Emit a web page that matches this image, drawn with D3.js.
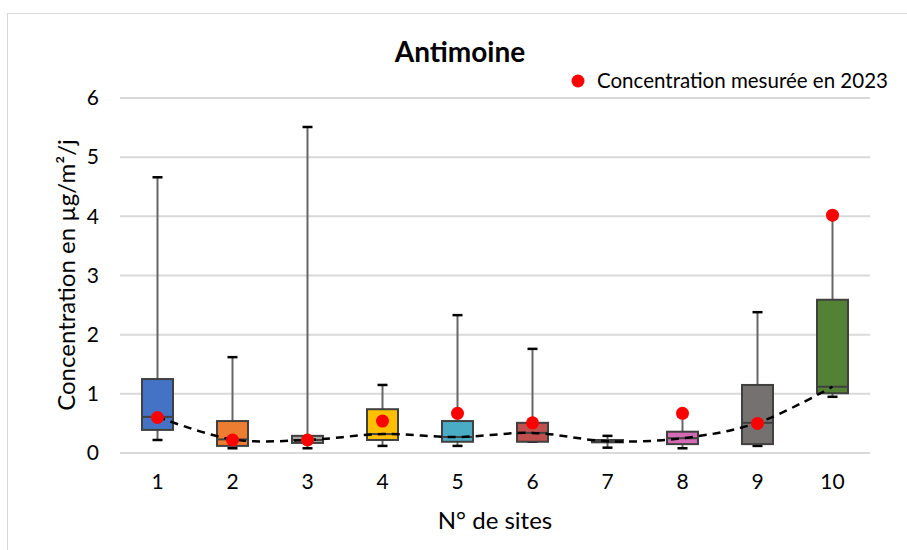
<!DOCTYPE html>
<meta charset="utf-8">
<script src="https://d3js.org/d3.v7.min.js"></script>
<style>
  body { margin: 0; background: #fff; }
  text { font-family: Lato, "Open Sans", sans-serif; fill: #000; }
</style>
<div id="chart"></div>
<script>
// data
var sites = ["1", "2", "3", "4", "5", "6", "7", "8", "9", "10"];
var whiskerMin = [0.22, 0.08, 0.08, 0.12, 0.12, 0.19, 0.09, 0.08, 0.12, 0.95];
var q1 = [0.39, 0.12, 0.17, 0.22, 0.19, 0.19, 0.18, 0.15, 0.15, 1.01];
var median = [0.61, 0.23, 0.22, 0.32, 0.27, 0.34, 0.20, 0.25, 0.51, 1.12];
var q3 = [1.25, 0.54, 0.29, 0.74, 0.54, 0.51, 0.22, 0.36, 1.15, 2.59];
var whiskerMax = [4.66, 1.62, 5.51, 1.15, 2.33, 1.76, 0.29, 0.62, 2.38, 4.02];
var measured2023 = [0.60, 0.22, 0.22, 0.54, 0.67, 0.51, null, 0.67, 0.50, 4.02];
var boxColors = ["#4472c4", "#ed7d31", "#a5a5a5", "#ffc000", "#4bacc6",
                 "#c0504d", "#595959", "#d36bb4", "#767171", "#548235"];
var yTicks = [0, 1, 2, 3, 4, 5, 6];

var W = 907, H = 550;
var margin = {top: 98, right: 37, bottom: 97, left: 120};

var svg = d3.select("#chart").append("svg")
  .attr("width", W)
  .attr("height", H);

// chart frame
svg.append("rect")
  .attr("x", 7.5).attr("y", 13.5)
  .attr("width", 1000).attr("height", 1000)
  .attr("fill", "none")
  .attr("stroke", "#d9d9d9");

var x = d3.scaleBand()
  .domain(sites)
  .range([margin.left, W - margin.right]);

var y = d3.scaleLinear()
  .domain([0, 6])
  .range([H - margin.bottom, margin.top]);

var rows = sites.map(function(s, i) {
  return {site: s, lo: whiskerMin[i], q1: q1[i], med: median[i], q3: q3[i],
          hi: whiskerMax[i], m: measured2023[i], color: boxColors[i]};
});

// gridlines
svg.append("g")
  .selectAll("line")
  .data(yTicks)
  .enter().append("line")
    .attr("x1", margin.left).attr("x2", W - margin.right)
    .attr("y1", function(d) { return y(d); })
    .attr("y2", function(d) { return y(d); })
    .attr("stroke", "#d9d9d9")
    .attr("stroke-width", 2);

// y axis labels
var yAxis = svg.append("g")
  .attr("transform", "translate(" + margin.left + ",0)")
  .call(d3.axisLeft(y).tickValues(yTicks).tickFormat(d3.format("d")).tickSize(0).tickPadding(21));
yAxis.select(".domain").remove();
yAxis.selectAll("text").style("font-family", "Lato, sans-serif").style("font-size", "21px").attr("fill", "#000");

// x axis labels
var xAxis = svg.append("g")
  .attr("transform", "translate(0," + (H - margin.bottom) + ")")
  .call(d3.axisBottom(x).tickSize(0).tickPadding(21));
xAxis.select(".domain").remove();
xAxis.selectAll("text").style("font-family", "Lato, sans-serif").style("font-size", "21px").attr("fill", "#000");

var bw = 31, cap = 10;
var g = svg.append("g");

// whiskers
g.selectAll(".whisker")
  .data(rows)
  .enter().append("line")
    .attr("x1", function(d) { return x(d.site) + x.bandwidth() / 2; })
    .attr("x2", function(d) { return x(d.site) + x.bandwidth() / 2; })
    .attr("y1", function(d) { return y(d.lo); })
    .attr("y2", function(d) { return y(d.hi); })
    .attr("stroke", "#666")
    .attr("stroke-width", 2);

// caps
["lo", "hi"].forEach(function(k) {
  g.selectAll(".cap-" + k)
    .data(rows)
    .enter().append("line")
      .attr("x1", function(d) { return x(d.site) + x.bandwidth() / 2 - cap / 2; })
      .attr("x2", function(d) { return x(d.site) + x.bandwidth() / 2 + cap / 2; })
      .attr("y1", function(d) { return y(d[k]); })
      .attr("y2", function(d) { return y(d[k]); })
      .attr("stroke", "#000")
      .attr("stroke-width", 2.5);
});

// dashed line through the medians
var line = d3.line()
  .x(function(d) { return x(d.site) + x.bandwidth() / 2; })
  .y(function(d) { return y(d.med); })
  .curve(d3.curveCatmullRom.alpha(0.5));
var dashed = svg.append("path")
  .datum(rows)
  .attr("d", line)
  .attr("fill", "none")
  .attr("stroke", "#000")
  .attr("stroke-width", 2.5)
  .attr("stroke-dasharray", "8,6");

// boxes
g.selectAll(".box")
  .data(rows)
  .enter().append("rect")
    .attr("x", function(d) { return x(d.site) + x.bandwidth() / 2 - bw / 2; })
    .attr("y", function(d) { return y(d.q3); })
    .attr("width", bw)
    .attr("height", function(d) { return y(d.q1) - y(d.q3); })
    .attr("fill", function(d) { return d.color; })
    .attr("stroke", "#404040")
    .attr("stroke-width", 2);

// medians
g.selectAll(".med")
  .data(rows)
  .enter().append("line")
    .attr("x1", function(d) { return x(d.site) + x.bandwidth() / 2 - bw / 2; })
    .attr("x2", function(d) { return x(d.site) + x.bandwidth() / 2 + bw / 2; })
    .attr("y1", function(d) { return y(d.med); })
    .attr("y2", function(d) { return y(d.med); })
    .attr("stroke", "#404040")
    .attr("stroke-width", 2);

// the line sits on top of the boxes in the reference
dashed.raise();

// 2023 measurements
svg.append("g")
  .selectAll("circle")
  .data(rows.filter(function(d) { return d.m != null; }))
  .enter().append("circle")
    .attr("cx", function(d) { return x(d.site) + x.bandwidth() / 2; })
    .attr("cy", function(d) { return y(d.m); })
    .attr("r", 6.5)
    .attr("fill", "#ff0000");

// title
svg.append("text")
  .attr("x", 460).attr("y", 62)
  .attr("text-anchor", "middle")
  .style("font-size", "28px")
  .style("font-weight", "bold")
  .text("Antimoine");

// legend
svg.append("circle")
  .attr("cx", 578).attr("cy", 81).attr("r", 6.5)
  .attr("fill", "#ff0000");
svg.append("text")
  .attr("x", 597).attr("y", 88)
  .style("font-size", "20.5px")
  .text("Concentration mesurée en 2023");

// axis titles
svg.append("text")
  .attr("x", 495).attr("y", 529)
  .attr("text-anchor", "middle")
  .style("font-size", "24px")
  .text("N° de sites");

svg.append("text")
  .attr("transform", "translate(75,275) rotate(-90)")
  .attr("text-anchor", "middle")
  .style("font-size", "24px")
  .text("Concentration en µg/m²/j");
</script>
